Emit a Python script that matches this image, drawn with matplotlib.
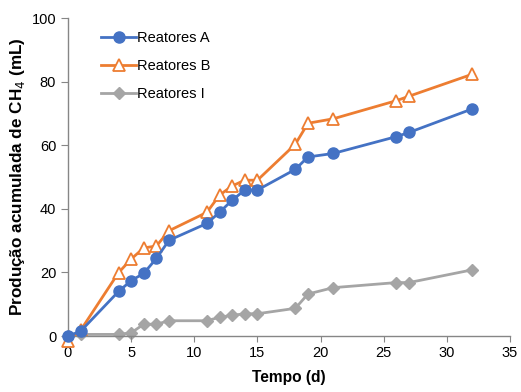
import matplotlib.pyplot as plt

plt.rcParams['font.family'] = ['Liberation Sans', 'DejaVu Sans']

tempo = [0, 1, 4, 5, 6, 7, 8, 11, 12, 13, 14, 15, 18, 19, 21, 26, 27, 32]
reatores_a = [0, 1.5, 14, 17.4, 19.7, 24.4, 30.1, 35.4, 38.9, 42.7, 45.9, 45.9,
              52.4, 56.3, 57.4, 62.7, 64.0, 71.4]
reatores_b = [-1.5, 1.8, 19.9, 24.2, 27.7, 28.3, 33.1, 38.9, 44.3, 47.2, 49.0, 49.0,
              60.3, 66.9, 68.3, 74.0, 75.4, 82.3]
reatores_i = [0, 0.5, 0.5, 1.0, 3.7, 3.7, 4.8, 4.8, 5.9, 6.5, 7.0, 7.0,
              8.7, 13.2, 15.2, 16.8, 16.8, 20.8]

fig = plt.figure(figsize=(5.21, 3.92), dpi=100)
ax = fig.add_axes([68/521, 1 - 336/392, (510-68)/521, (336-18)/392])

ax.plot(tempo, reatores_a, color='#4472C4', lw=2, marker='o', ms=8, label='Reatores A',
        zorder=3, clip_on=False)
ax.plot(tempo, reatores_b, color='#ED7D31', lw=2, marker='^', ms=8.5, mfc='white',
        mec='#ED7D31', mew=1.3, label='Reatores B', zorder=2, clip_on=False)
ax.plot(tempo, reatores_i, color='#A5A5A5', lw=2, marker='D', ms=6.5, label='Reatores I',
        zorder=1, clip_on=False)

ax.set_xlim(0, 35)
ax.set_ylim(0, 100)
ax.set_xticks(range(0, 36, 5))
ax.set_yticks(range(0, 101, 20))
for s in ['top', 'right']:
    ax.spines[s].set_visible(False)
for s in ['left', 'bottom']:
    ax.spines[s].set_color('#868686')
    ax.spines[s].set_linewidth(1)
ax.tick_params(axis='both', colors='#868686', labelcolor='black', labelsize=10.5, length=4)
ax.tick_params(axis='y', length=5)

ax.set_xlabel('Tempo (d)', fontsize=11.2, fontweight='bold', labelpad=7)
ax.set_ylabel('Produção acumulada de CH$_4$ (mL)', fontsize=12.3, fontweight='bold', labelpad=3)

ax.legend(loc='upper left', bbox_to_anchor=(0.045, 1.0), frameon=False, fontsize=10.5,
          handlelength=2.4, labelspacing=0.95, handletextpad=0.05)

fig.savefig('out.png', dpi=100)
